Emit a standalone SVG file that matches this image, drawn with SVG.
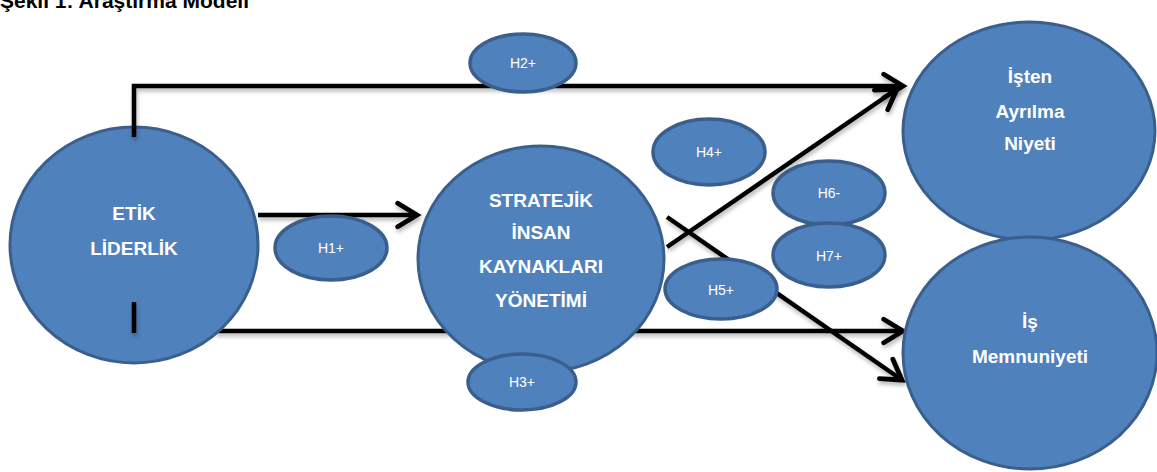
<svg xmlns="http://www.w3.org/2000/svg" width="1157" height="472" viewBox="0 0 1157 472">
<style>
.big{fill:#4F81BD;stroke:#3A5F8C;stroke-width:3}
.sm{fill:#4F81BD;stroke:#3A5F8C;stroke-width:3.5}
.bt{font-family:"Liberation Sans",Arial,sans-serif;font-weight:bold;font-size:19px;fill:#fff;text-anchor:middle}
.st{font-family:"Liberation Sans",Arial,sans-serif;font-size:14px;fill:#fff;text-anchor:middle}
.ln{fill:none;stroke:#000;stroke-width:4.5}
.title{font-family:"Liberation Sans",Arial,sans-serif;font-weight:bold;font-size:21px;fill:#000}
</style>
<defs>
<marker id="arr" markerUnits="userSpaceOnUse" markerWidth="30" markerHeight="30" viewBox="-22 -14 26 28" refX="0" refY="0" orient="auto">
<path d="M-18,-11 L0,0 L-18,11" fill="none" stroke="#000" stroke-width="4.5" stroke-linecap="round" stroke-linejoin="miter"/>
</marker>
<filter id="sh" x="-5%" y="-50%" width="110%" height="200%">
<feGaussianBlur in="SourceAlpha" stdDeviation="2"/>
<feOffset dx="1" dy="3" result="b"/>
<feComponentTransfer><feFuncA type="linear" slope="0.3"/></feComponentTransfer>
<feMerge><feMergeNode/><feMergeNode in="SourceGraphic"/></feMerge>
</filter>
</defs>
<text class="title" x="0" y="8">Şekil 1: Araştırma Modeli</text>
<g id="connectors" filter="url(#sh)">
<line class="ln" x1="215" y1="331" x2="903" y2="331" marker-end="url(#arr)"/>
<line class="ln" x1="258" y1="215" x2="417" y2="215" marker-end="url(#arr)"/>
<line class="ln" x1="667" y1="247" x2="897" y2="89" marker-end="url(#arr)"/>
<line class="ln" x1="667" y1="217" x2="902" y2="380" marker-end="url(#arr)"/>
</g>
<g id="etik"><ellipse class="big" cx="134" cy="245" rx="124" ry="118"/>
<text class="bt" x="134" y="220">ETİK</text><text class="bt" x="134" y="255">LİDERLİK</text></g>
<g id="connectors-top" filter="url(#sh)">
<polyline class="ln" points="134,137 134,86 903,86" marker-end="url(#arr)"/>
<line class="ln" x1="134" y1="302" x2="134" y2="333"/>
</g>
<g id="siyk"><ellipse class="big" cx="541" cy="259" rx="123" ry="113"/>
<text class="bt" x="541" y="207">STRATEJİK</text><text class="bt" x="541" y="239">İNSAN</text><text class="bt" x="541" y="273">KAYNAKLARI</text><text class="bt" x="541" y="307">YÖNETİMİ</text></g>
<g id="isten"><ellipse class="big" cx="1029" cy="131" rx="126" ry="109"/>
<text class="bt" x="1030" y="83">İşten</text><text class="bt" x="1030" y="118">Ayrılma</text><text class="bt" x="1030" y="150">Niyeti</text></g>
<g id="memnun"><ellipse class="big" cx="1030" cy="353" rx="127" ry="116"/>
<text class="bt" x="1030" y="328">İş</text><text class="bt" x="1030" y="363">Memnuniyeti</text></g>
<g id="h1"><ellipse class="sm" cx="331" cy="248" rx="56" ry="32"/><text class="st" x="331" y="253">H1+</text></g>
<g id="h2"><ellipse class="sm" cx="523" cy="63" rx="53" ry="29"/><text class="st" x="523" y="68">H2+</text></g>
<g id="h3"><ellipse class="sm" cx="522" cy="382" rx="54" ry="28"/><text class="st" x="522" y="387">H3+</text></g>
<g id="h4"><ellipse class="sm" cx="709" cy="152" rx="56" ry="33"/><text class="st" x="709" y="157">H4+</text></g>
<g id="h5"><ellipse class="sm" cx="721" cy="289" rx="56" ry="30"/><text class="st" x="721" y="295">H5+</text></g>
<g id="h6"><ellipse class="sm" cx="829" cy="193" rx="56" ry="32"/><text class="st" x="829" y="198">H6-</text></g>
<g id="h7"><ellipse class="sm" cx="829" cy="255" rx="56" ry="32"/><text class="st" x="829" y="261">H7+</text></g>
</svg>
